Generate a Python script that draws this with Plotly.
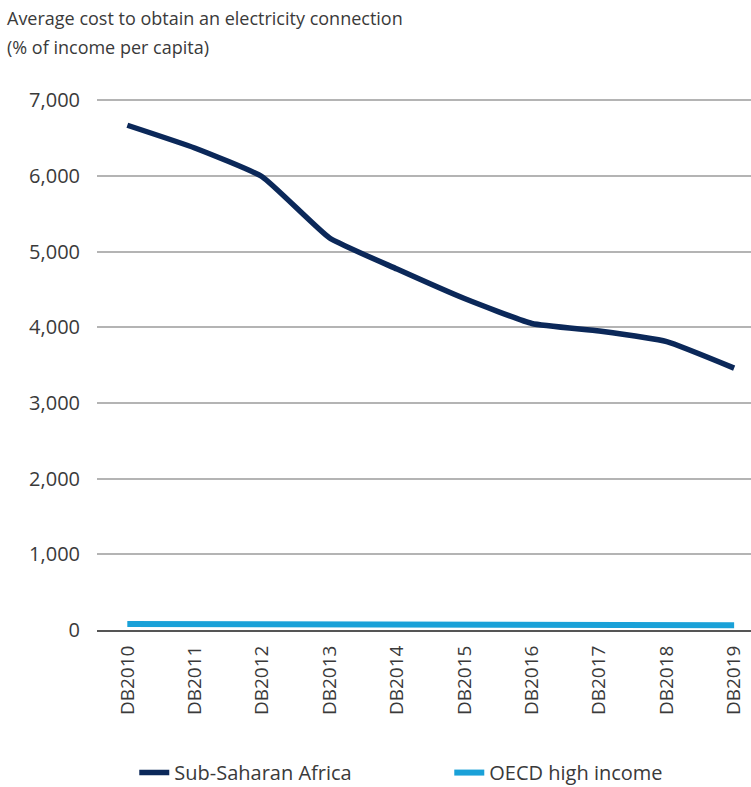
import plotly.graph_objects as go

years = ["DB2010", "DB2011", "DB2012", "DB2013", "DB2014",
         "DB2015", "DB2016", "DB2017", "DB2018", "DB2019"]
ssa = [6670, 6370, 5990, 5180, 4770, 4380, 4050, 3950, 3810, 3460]
oecd = [80, 78, 76, 74, 72, 70, 68, 66, 65, 64]

title_lines = ["Average cost to obtain an electricity connection", "(% of income per capita)"]

font = "Open Sans"
grey = "#3a3a3a"

fig = go.Figure()
fig.add_trace(go.Scatter(x=years, y=ssa, name="Sub-Saharan Africa", mode="lines",
                         line=dict(color="#0b2859", width=5.5, shape="spline", smoothing=0.4)))
fig.add_trace(go.Scatter(x=years, y=oecd, name="OECD high income", mode="lines",
                         line=dict(color="#1aa1d8", width=6)))

# two-line heading, drawn as separate annotations to get the wide line spacing
for i, txt in enumerate(title_lines):
    fig.add_annotation(text=txt, xref="paper", yref="paper", x=-0.14, y=1.150 - i * 0.054,
                       xanchor="left", yanchor="middle", showarrow=False,
                       font=dict(size=18, color=grey))

fig.update_layout(
    width=751, height=787,
    margin=dict(l=97, r=0, t=98, b=157, autoexpand=False),
    paper_bgcolor="white", plot_bgcolor="white",
    font=dict(family=font, color=grey, size=20),
    showlegend=True,
    legend=dict(orientation="h", x=0.057, xanchor="left", y=-0.268, yanchor="middle",
                font=dict(size=20, color=grey), entrywidth=270),
    separators=".,",
)
fig.update_yaxes(range=[0, 7030], dtick=1000, tickformat=",d",
                 showgrid=True, gridcolor="#b4b4b4", gridwidth=2,
                 zeroline=False, showline=False, ticks="", ticklabelstandoff=16)
fig.update_xaxes(type="category", range=[-0.45, 9.25], tickangle=-90,
                 showgrid=False, showline=True, linecolor="#555", linewidth=2,
                 ticks="", ticklabelstandoff=6, tickfont=dict(size=19, color=grey))

# drop the default page margin so the figure sits at the window's top-left corner
fig.write_html("out.html", config={"displayModeBar": False},
               post_script="document.body.style.margin='0px';")
